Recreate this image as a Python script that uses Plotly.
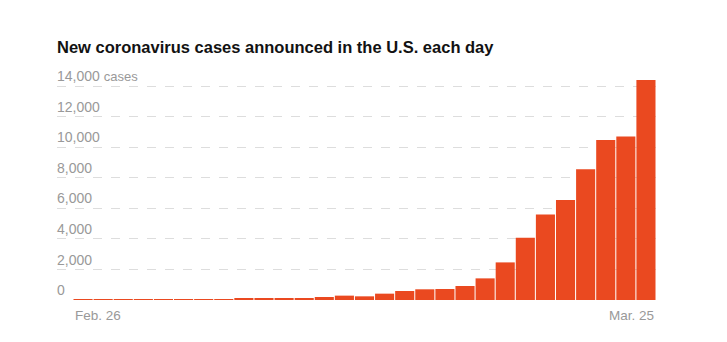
import plotly.graph_objects as go

dates = ["Feb. 26", "Feb. 27", "Feb. 28", "Feb. 29", "Mar. 1", "Mar. 2", "Mar. 3",
         "Mar. 4", "Mar. 5", "Mar. 6", "Mar. 7", "Mar. 8", "Mar. 9", "Mar. 10",
         "Mar. 11", "Mar. 12", "Mar. 13", "Mar. 14", "Mar. 15", "Mar. 16", "Mar. 17",
         "Mar. 18", "Mar. 19", "Mar. 20", "Mar. 21", "Mar. 22", "Mar. 23", "Mar. 24",
         "Mar. 25"]
cases = [1, 1, 2, 6, 9, 20, 25, 35, 70, 70, 110, 115, 195, 285, 240, 415, 590,
         700, 720, 915, 1415, 2460, 4075, 5600, 6535, 8560, 10460, 10700, 14400]
ytick_vals = [0, 2000, 4000, 6000, 8000, 10000, 12000, 14000]
ytick_text = ["0", "2,000", "4,000", "6,000", "8,000", "10,000", "12,000",
              "14,000 <span style='font-size:13px'>cases</span>"]
title_text = "New coronavirus cases announced in the U.S. each day"

fig = go.Figure()
fig.add_trace(go.Bar(x=dates, y=cases, marker=dict(color="#ea4920", line=dict(width=0))))

fig.update_layout(
    width=727, height=342,
    margin=dict(l=57, r=71, t=64, b=42),
    paper_bgcolor="white", plot_bgcolor="white",
    bargap=0.05,
    showlegend=False,
    title=dict(text="<b>" + title_text + "</b>", x=57/727, xref="container", xanchor="left",
               y=1 - 47/342, yref="container", yanchor="middle",
               font=dict(family="Liberation Sans, Arial", size=16.5, color="#121212")),
    font=dict(family="Liberation Sans, Arial", color="#999999"),
)
fig.update_xaxes(type="category", range=[-1.296, 28.5], showticklabels=False,
                 showgrid=False, zeroline=False, showline=False, ticks="")
fig.update_yaxes(range=[0, 15439], tickvals=ytick_vals, ticktext=ytick_text,
                 ticklabelposition="inside top", ticklabelstandoff=-3,
                 tickfont=dict(size=14, color="#999999"),
                 showgrid=True, gridcolor="#dddddd", griddash="dash", gridwidth=1,
                 zeroline=False, showline=False, ticks="")
fig.add_annotation(x=-0.5, y=0, xref="x", yref="y", text=dates[0], showarrow=False,
                   xanchor="left", yanchor="top", yshift=-6,
                   font=dict(size=13.5, color="#999999"))
fig.add_annotation(x=28.5, y=0, xref="x", yref="y", text=dates[-1], showarrow=False,
                   xanchor="right", yanchor="top", yshift=-6,
                   font=dict(size=13.5, color="#999999"))

fig.write_html("out.html")
